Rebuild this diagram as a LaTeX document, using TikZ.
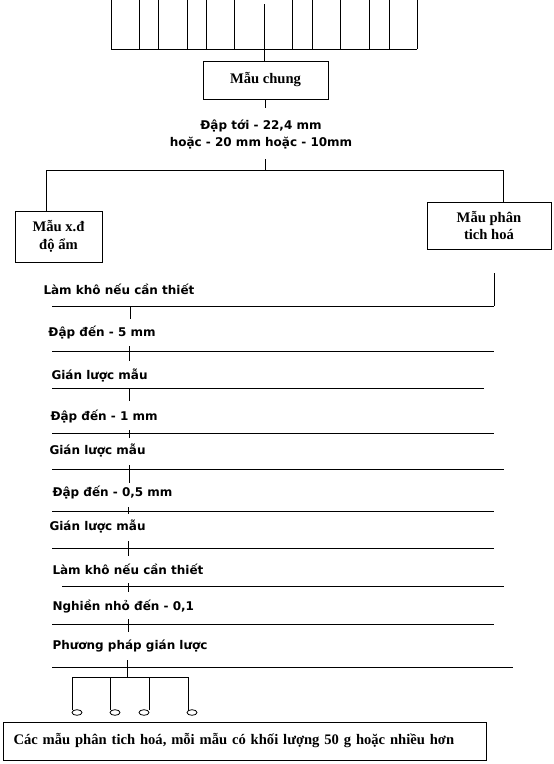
\documentclass[tikz,border=0pt]{standalone}
\usepackage{fontspec}
\setmainfont{Liberation Serif}
\newfontfamily\stepfont{DejaVu Sans}
\begin{document}
\begin{tikzpicture}[x=1pt,y=-1pt,line width=1pt,
  boxnode/.style={draw,line width=1pt,inner sep=0pt,align=center,
    font=\fontsize{14.6}{18}\selectfont\bfseries},
  steplabel/.style={anchor=base west,inner sep=0pt,
    font=\stepfont\bfseries\fontsize{12}{14}\selectfont},
  midlabel/.style={anchor=base,inner sep=0pt,
    font=\stepfont\bfseries\fontsize{12}{14}\selectfont},
  cup/.style={line width=0.8pt}]
\useasboundingbox (0,0) rectangle (554,764);

% top comb
\coordinate (combL) at (111,49);
\coordinate (combR) at (417,49);
\draw (combL) -- (combR);
\foreach \x in {111,139,158,187,206,234,292,312,340,369,389,417}
  \draw (\x,0) -- (\x,49);

% main box
\node[boxnode,minimum width=125pt,minimum height=38pt] (chung) at (265.5,80) {Mẫu chung};
\coordinate (ctop) at (264,4);
\draw (ctop) -- (ctop |- chung.north);
\coordinate (cbot) at (265,108);
\draw (chung.south -| cbot) -- (cbot);

\node[midlabel] (dap1) at (261,129) {Đập tới - 22,4 mm};
\node[midlabel] (dap2) at (261,146) {hoặc - 20 mm hoặc - 10mm};

% split
\coordinate (split) at (265,170);
\coordinate (splitL) at (46,170);
\coordinate (splitR) at (503,170);
\draw (265,159) -- (split);
\draw (splitL) -- (splitR);

\node[boxnode,minimum width=87pt,minimum height=51pt] (lbox) at (58.5,236.5) {Mẫu x.đ\\độ ẩm};
\node[boxnode,minimum width=124pt,minimum height=47pt,font=\fontsize{14.6}{17}\selectfont\bfseries] (rbox) at (489,225.5) {Mẫu phân\\tich hoá};
\draw (splitL) -- (splitL |- lbox.north);
\draw (splitR) -- (splitR |- rbox.north);

% right drop
\coordinate (rdropA) at (494,273);
\coordinate (rdropB) at (494,306);
\draw (rdropA) -- (rdropB);

% step labels
\node[steplabel] (s1) at (43,294) {Làm khô nếu cần thiết};
\node[steplabel] (s2) at (48,336) {Đập đến - 5 mm};
\node[steplabel] (s3) at (51,379) {Gián lược mẫu};
\node[steplabel] (s4) at (50,420.5) {Đập đến - 1 mm};
\node[steplabel] (s5) at (49,454.5) {Gián lược mẫu};
\node[steplabel] (s6) at (52,496.5) {Đập đến - 0,5 mm};
\node[steplabel] (s7) at (49,530.5) {Gián lược mẫu};
\node[steplabel] (s8) at (52,574.5) {Làm khô nếu cần thiết};
\node[steplabel] (s9) at (52,610.5) {Nghiền nhỏ đến - 0,1};
\node[steplabel] (s10) at (52,649.5) {Phương pháp gián lược};

% rules
\foreach \y/\xa/\xb in {306/52/494,351/52/494,388/52/484,433/52/494,469/52/504,
                       511/52/494,548/52/494,586/62/504,624/52/494,667/52/513}
  \draw (\xa,\y) -- (\xb,\y);

% ticks
\foreach \x/\ya/\yb in {130/306/319,129/346/361,129/388/401,129/430/438,129/465/483,
                        128/507/514,128/541/556,128/583/592,128/619/632,127/660/677}
  \draw (\x,\ya) -- (\x,\yb);

% branch
\coordinate (brL) at (72,677);
\coordinate (brR) at (188,677);
\draw (brL) -- (brR);
\foreach \x in {72,110,149,188}
  \draw (\x,677) -- (\x,710);
\foreach \x in {77,115,144,192}
  \draw[cup] (\x,712.5) ellipse [x radius=5,y radius=2.8];

% bottom box
\node[boxnode,minimum width=483pt,minimum height=38pt,text width=463pt,
  inner xsep=10pt,align=left,anchor=west] (final) at (3,741)
  {Các mẫu phân tich hoá, mỗi mẫu có khối lượng 50 g hoặc nhiều hơn};
\end{tikzpicture}
\end{document}
